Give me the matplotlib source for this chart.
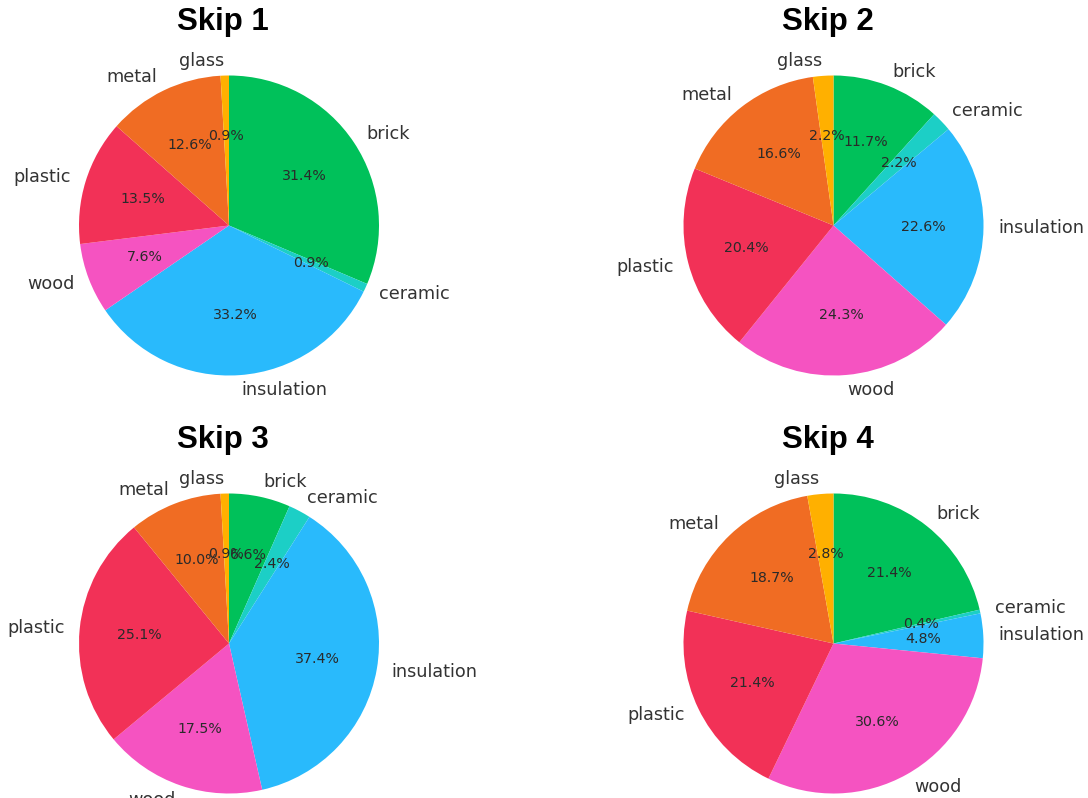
import matplotlib
matplotlib.use("Agg")
import matplotlib.pyplot as plt

materials = ["brick", "ceramic", "insulation", "wood", "plastic", "metal", "glass"]
colors = ["#00C15A", "#1CCFC6", "#29BAFC", "#F553C1", "#F23157", "#F06C23", "#FFB000"]

skip1 = [31.4, 0.9, 33.2, 7.6, 13.5, 12.6, 0.9]
skip2 = [11.7, 2.2, 22.6, 24.3, 20.4, 16.6, 2.2]
skip3 = [6.6, 2.4, 37.4, 17.5, 25.1, 10.0, 0.9]
skip4 = [21.4, 0.4, 4.8, 30.6, 21.4, 18.7, 2.8]

titles = ["Skip 1", "Skip 2", "Skip 3", "Skip 4"]
series = [skip1, skip2, skip3, skip4]

W, H = 1088, 798
fig = plt.figure(figsize=(W / 100, H / 100), dpi=100)
fig.patch.set_facecolor("white")

# pie centres in pixels, radius 150 px -> square axes of 2.5 * 150
centres = [(229, 225.5), (833.5, 225.5), (229, 643.5), (833.5, 643.5)]
side = 375.0

for (cx, cy), title, vals in zip(centres, titles, series):
    left = (cx - side / 2) / W
    bottom = (H - (cy + side / 2)) / H
    ax = fig.add_axes([left, bottom, side / W, side / H])
    wedges, texts, autotexts = ax.pie(
        vals, labels=materials, colors=colors, startangle=90,
        counterclock=False, autopct="%1.1f%%",
        textprops={"fontsize": 12.7, "color": "#333333"},
    )
    for t in autotexts:
        t.set_fontsize(10.2)
        t.set_color("#2a2a2a")
    ax.set_title(title, fontsize=22.5, fontweight="bold", x=0.484,
                 family=["Liberation Sans", "DejaVu Sans"], pad=6)
    ax.set_aspect("equal")

fig.savefig("out.png", dpi=100, facecolor="white")
